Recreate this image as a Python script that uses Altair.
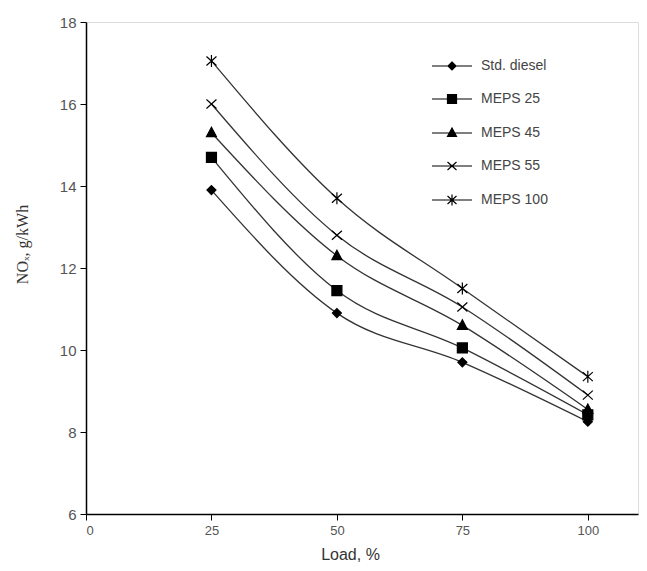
import altair as alt
import pandas as pd

loads = [25, 50, 75, 100]
series = ["Std. diesel", "MEPS 25", "MEPS 45", "MEPS 55", "MEPS 100"]
std_diesel = [13.9, 10.9, 9.7, 8.25]
meps25 = [14.7, 11.45, 10.05, 8.42]
meps45 = [15.3, 12.3, 10.6, 8.55]
meps55 = [16.0, 12.8, 11.05, 8.9]
meps100 = [17.05, 13.7, 11.5, 9.35]

values = [std_diesel, meps25, meps45, meps55, meps100]
rows = []
for name, vals in zip(series, values):
    for l, v in zip(loads, vals):
        rows.append({"Load": l, "NOx": v, "Series": name})
df = pd.DataFrame(rows)

marker_paths = [
    "M0,-0.9L0.9,0L0,0.9L-0.9,0Z",
    "M-1,-1L1,-1L1,1L-1,1Z",
    "M0,-1.1L1,0.8L-1,0.8Z",
    "M-1,-0.9L1,0.9M-1,0.9L1,-0.9",
    "M-1,-0.9L1,0.9M-1,0.9L1,-0.9M0,-1.2L0,1.2",
]
legend_paths = [
    "M-4,0H4M0,-0.8L0.8,0L0,0.8L-0.8,0Z",
    "M-4,0H4M-0.9,-0.9L0.9,-0.9L0.9,0.9L-0.9,0.9Z",
    "M-4,0H4M0,-1L0.9,0.7L-0.9,0.7Z",
    "M-4,0H4M-0.9,-0.8L0.9,0.8M-0.9,0.8L0.9,-0.8",
    "M-4,0H4M-0.9,-0.8L0.9,0.8M-0.9,0.8L0.9,-0.8M0,-1.1L0,1.1",
]

font = "Liberation Sans"

x_enc = alt.X(
    "Load:Q",
    scale=alt.Scale(domain=[0, 110], nice=False, zero=False),
    axis=alt.Axis(
        values=[0, 25, 50, 75, 100],
        title="Load, %",
        titleFont=font,
        titleFontSize=16,
        titleFontWeight="normal",
        titleColor="#333",
        titleX=264,
        titleY=40,
        titleBaseline="middle",
        labelFont=font,
        labelFontSize=13,
        labelColor="#555",
        labelPadding=4,
        tickSize=6,
        domainColor="black",
        domainWidth=1.5,
        tickColor="black",
        grid=False,
    ),
)
y_enc = alt.Y(
    "NOx:Q",
    scale=alt.Scale(domain=[6, 18], nice=False, zero=False),
    axis=alt.Axis(
        values=[6, 8, 10, 12, 14, 16, 18],
        title="NOₓ, g/kWh",
        titleFont="Liberation Serif",
        titleFontSize=16,
        titleFontWeight="normal",
        titleColor="#333",
        titleX=-64,
        titleY=222,
        titleAngle=-90,
        titleBaseline="middle",
        labelFont=font,
        labelFontSize=15,
        labelColor="#555",
        labelPadding=4,
        tickSize=6,
        domainColor="black",
        domainWidth=1.5,
        tickColor="black",
        grid=False,
    ),
)

lines = alt.Chart(df).mark_line(
    interpolate="monotone", color="#333", strokeWidth=1.3
).encode(x=x_enc, y=y_enc, detail="Series:N")

points = alt.Chart(df).mark_point(
    filled=True, fill="black", stroke="black", opacity=1, strokeWidth=1.2, size=100
).encode(
    x="Load:Q",
    y="NOx:Q",
    shape=alt.Shape(
        "Series:N",
        scale=alt.Scale(domain=series, range=marker_paths),
        legend=None,
    ),
)

legend_layer = alt.Chart(df).transform_filter("false").mark_point(
    filled=False, strokeWidth=1.2, size=100, opacity=1
).encode(
    x="Load:Q",
    y="NOx:Q",
    color=alt.value("black"),
    fill=alt.value("black"),
    shape=alt.Shape(
        "Series:N",
        scale=alt.Scale(domain=series, range=legend_paths),
        legend=alt.Legend(
            title=None,
            orient="none",
            legendX=359,
            legendY=37,
            symbolOpacity=1,
            symbolStrokeWidth=1.2,
            symbolSize=100,
            labelOffset=22,
            labelFont=font,
            labelFontSize=14,
            labelColor="#444",
            rowPadding=19,
            padding=0,
        ),
    ),
)

chart = (
    alt.layer(lines, points, legend_layer)
    .resolve_scale(shape="independent")
    .properties(
        width=552,
        height=492,
        autosize=alt.AutoSizeParams(type="none"),
        padding={"left": 78, "top": 14, "right": 1, "bottom": 50},
    )
    .configure_view(stroke="black", strokeWidth=1.5)
    .configure(background="white")
)

chart.save("out.html", embed_options={"renderer": "svg", "actions": False})
